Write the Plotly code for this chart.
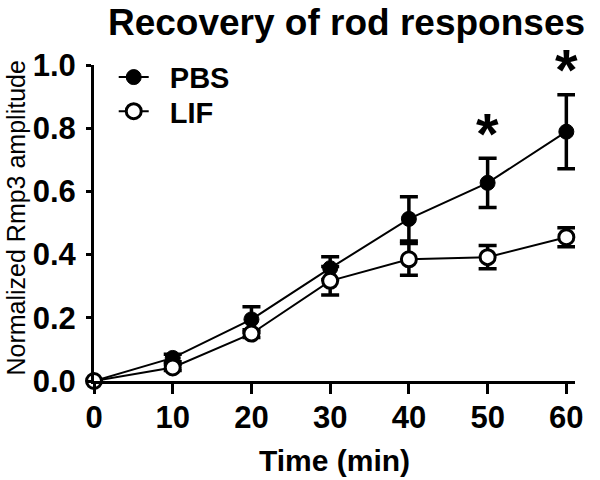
import plotly.graph_objects as go

time_min = [0, 10, 20, 30, 40, 50, 60]
pbs_mean = [0.0, 0.073, 0.195, 0.357, 0.513, 0.627, 0.789]
pbs_err = [0.0, 0.012, 0.040, 0.036, 0.070, 0.078, 0.117]
lif_mean = [0.0, 0.043, 0.150, 0.317, 0.385, 0.392, 0.455]
lif_err = [0.0, 0.010, 0.012, 0.045, 0.050, 0.037, 0.030]
sig_times = [50, 60]
sig_labels = ["*", "*"]

FONT = "Arial, Liberation Sans, sans-serif"
NB = "\u00a0\u00a0"

fig = go.Figure()
fig.add_trace(go.Scatter(
    x=time_min, y=pbs_mean, name=NB + "PBS", mode="lines+markers",
    line=dict(color="black", width=2),
    marker=dict(symbol="circle", size=15, color="black", line=dict(color="black", width=1)),
    error_y=dict(type="data", array=pbs_err, color="black", thickness=3.5, width=9),
    cliponaxis=False, legend="legend",
))
fig.add_trace(go.Scatter(
    x=time_min, y=lif_mean, name=NB + "LIF", mode="lines+markers",
    line=dict(color="black", width=2),
    marker=dict(symbol="circle", size=15, color="white", line=dict(color="black", width=3)),
    error_y=dict(type="data", array=lif_err, color="black", thickness=3.5, width=9),
    cliponaxis=False, legend="legend2",
))

# significance asterisks above PBS error bars
for t, lab in zip(sig_times, sig_labels):
    i = time_min.index(t)
    fig.add_annotation(
        x=t, y=pbs_mean[i] + pbs_err[i], text="<b>" + lab + "</b>", showarrow=False,
        yshift=25, font=dict(family=FONT, size=58, color="black"),
    )

# y-axis title
fig.add_annotation(
    text="Normalized Rmp3 amplitude", textangle=-90, showarrow=False,
    xref="paper", yref="paper", x=-0.163, y=0.516, xanchor="center", yanchor="middle",
    font=dict(family=FONT, size=25, color="black"),
)

legend_common = dict(xanchor="left", yanchor="top",
                     font=dict(family=FONT, size=29, color="black", weight="bold"),
                     bgcolor="rgba(0,0,0,0)", itemwidth=30)

fig.update_layout(
    width=600, height=480,
    paper_bgcolor="white", plot_bgcolor="white",
    margin=dict(l=94, r=25, t=65, b=99, autoexpand=False),
    title=dict(text="<b>Recovery of rod responses</b>", x=0.5775, xanchor="center",
               y=0.955, yanchor="middle",
               font=dict(family=FONT, size=37, color="black")),
    showlegend=True,
    legend=dict(x=0.041, y=1.042, **legend_common),
    legend2=dict(x=0.041, y=0.934, **legend_common),
    font=dict(family=FONT, color="black"),
)
fig.update_xaxes(
    range=[0, 61.1], tickvals=time_min, ticktext=[str(t) for t in time_min],
    automargin=False,
    showgrid=False, zeroline=False, showline=True, linecolor="black", linewidth=3,
    ticks="outside", ticklen=10, tickwidth=3, tickcolor="black", ticklabelstandoff=-3,
    tickfont=dict(family=FONT, size=31, color="black", weight="bold"),
    title=dict(text="<b>Time (min)</b>", font=dict(family=FONT, size=30, color="black"), standoff=16),
)
fig.update_yaxes(
    range=[0, 1.0], tickvals=[0, 0.2, 0.4, 0.6, 0.8, 1.0],
    ticktext=["0.0", "0.2", "0.4", "0.6", "0.8", "1.0"],
    automargin=False,
    showgrid=False, zeroline=False, showline=True, linecolor="black", linewidth=3,
    ticks="outside", ticklen=5, tickwidth=3, tickcolor="black", ticklabelstandoff=4,
    tickfont=dict(family=FONT, size=31, color="black", weight="bold"),
)

fig.write_html("out.html", config={"displayModeBar": False},
               post_script="document.body.style.margin='0';")
